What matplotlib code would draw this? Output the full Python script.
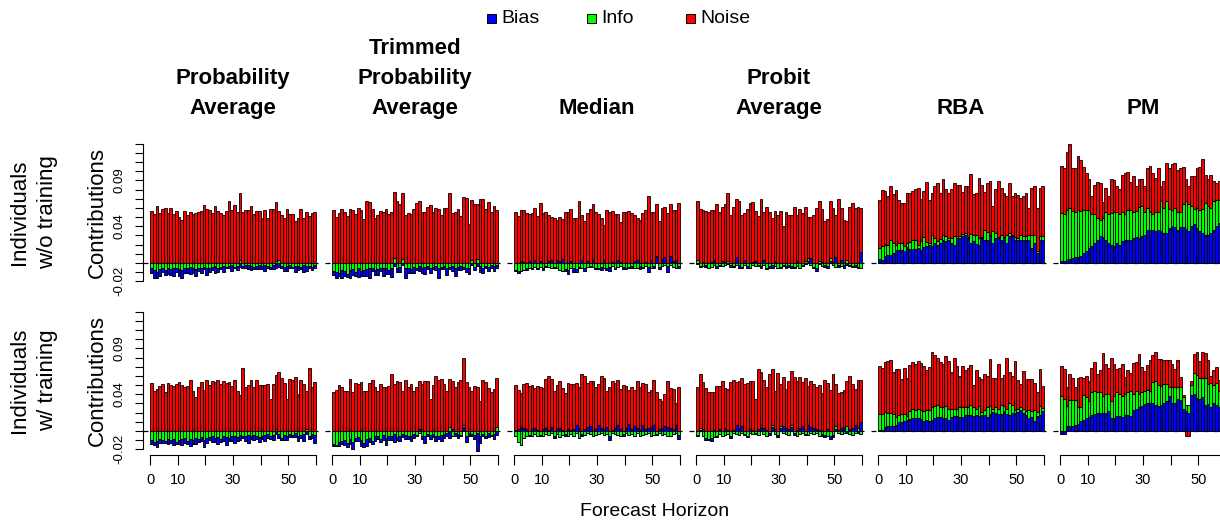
import matplotlib
matplotlib.use("Agg")
import matplotlib.pyplot as plt
from matplotlib.patches import Rectangle
import numpy as np

plt.rcParams['font.family'] = ['Liberation Sans', 'DejaVu Sans']

# contributions per forecast horizon (60 horizons), in units of 0.001
# row 1: individuals without training
pa_wo_bias = [-5, -8, -6, -7, -4, -5, -7, -6, -8, -5, -7, -8, -5, -6, -8, -5, -7, -4, -6, -3, -7, -5, -4, -8, -5, -3, -7, -2, -3, -7,
              -2, -5, -4, -2, -3, -5, -5, -3, -4, -5, -4, -7, -2, -3, -5, -5, -4, -3, -5, -6, -4, -2, -7, -5, -3, -8, -6, -3, -4, -3]
pa_wo_info = [-6, -8, -10, -7, -6, -8, -5, -7, -6, -5, -7, -8, -6, -5, -4, -6, -7, -5, -5, -4, -6, -5, -4, -3, -5, -4, -3, -4, -3, -2,
              -4, -3, 3, -3, -2, -2, -3, -4, -3, -2, -3, -2, -3, -4, -2, 2, 3, -3, -4, -3, -2, -4, -3, -3, -4, -2, -3, -3, -4, -2]
pa_wo_noise = [57, 53, 62, 54, 59, 60, 54, 60, 53, 57, 50, 47, 57, 52, 56, 53, 54, 56, 57, 63, 59, 58, 54, 62, 57, 54, 52, 57, 68, 58,
               63, 56, 73, 55, 58, 58, 62, 53, 57, 57, 49, 58, 49, 59, 59, 64, 54, 52, 49, 59, 53, 53, 46, 49, 59, 49, 56, 51, 54, 55]

tpa_wo_bias = [-4, -6, -3, -8, -5, -3, -8, -6, -4, -9, -5, -6, -7, -10, -4, -5, -6, -3, -8, -7, -4, -9, -3, -5, -6, -2, -10, -6, -4, -7,
               -3, -6, -5, -8, -4, -6, -3, -5, -10, -3, -4, -8, -3, -6, -9, -4, -5, -3, -5, -6, -2, -4, -3, -7, -6, -3, -5, -4, -6, -4]
tpa_wo_info = [-9, -10, -11, -8, -9, -12, -8, -7, -10, -6, -9, -8, -7, -6, -5, -8, -7, -6, -6, -5, -8, -6, 5, -5, -4, 4, -6, -5, -7, -4,
               -5, -3, -6, -4, -3, -5, -4, -3, -6, -4, -3, -5, -4, -3, -5, -4, -3, -4, -5, -6, 3, -4, 4, -3, -5, -3, -4, -2, -3, -2]
tpa_wo_noise = [58, 50, 54, 59, 56, 51, 59, 58, 53, 60, 58, 48, 67, 66, 59, 49, 52, 57, 56, 59, 53, 56, 72, 67, 64, 72, 52, 54, 53, 59,
                65, 67, 56, 56, 61, 63, 56, 60, 59, 52, 60, 60, 76, 54, 55, 59, 51, 72, 71, 43, 66, 64, 60, 70, 70, 59, 66, 56, 62, 58]

med_wo_bias = [-1, -2, 2, 1, -2, 2, -1, 3, -2, 2, -3, -1, 2, 3, -2, 3, 2, 4, -2, -4, 2, -5, -3, -1, 3, -4, 2, -1, 3, -2,
               -1, -4, 3, -2, -5, 1, -2, 3, 1, -3, -2, -1, -3, 2, 3, -4, -2, 1, -6, 3, -2, 6, -3, 4, 6, -7, 8, 2, 3, -3]
med_wo_info = [-8, -9, -9, -8, -6, -5, -6, -4, -5, -4, -5, -3, -4, -5, -4, -6, -8, -9, -7, -8, -6, -5, -7, -4, -6, -5, -4, -3, -4, -5,
               -6, -4, -5, -6, -4, -3, -5, -4, -3, -4, -5, -4, -3, -5, -6, -3, -4, -3, -4, -5, -3, 2, -4, -3, -2, -3, -2, -4, -5, -3]
med_wo_noise = [56, 51, 56, 57, 54, 51, 54, 57, 51, 63, 54, 56, 50, 47, 49, 44, 48, 44, 56, 55, 57, 49, 49, 67, 49, 46, 52, 59, 61, 56,
                53, 49, 38, 58, 56, 56, 53, 50, 44, 55, 55, 57, 54, 50, 46, 47, 54, 57, 73, 52, 56, 56, 46, 56, 55, 54, 56, 56, 55, 65]

pro_wo_bias = [-1, -1, 1, -2, -1, 1, 3, -3, -1, 2, 1, -1, -2, -1, 6, -3, -1, 3, -2, -1, 1, 2, -1, -3, 3, -2, -2, -4, 2, -1,
               -2, -1, -3, -2, -2, -1, 2, -1, -1, -1, 2, 5, -2, -4, -1, 1, -2, -3, 2, 1, 6, -2, 3, -3, -2, -1, -1, -2, -1, 12]
pro_wo_info = [3, -3, -3, -2, -5, -4, -2, -3, -2, -3, -2, 2, -2, -3, -2, -2, -4, -2, -3, -5, -2, -3, -2, -3, -2, -5, -3, -2, -3, -5,
               -4, -2, -3, -2, -3, -4, -3, -5, -2, 2, 3, -2, -4, -5, 2, -3, -2, -3, 3, -2, -4, -2, -3, -2, 3, -2, -3, -2, -4, -5]
pro_wo_noise = [64, 59, 57, 57, 56, 57, 55, 64, 56, 59, 63, 74, 52, 61, 64, 67, 52, 51, 59, 65, 65, 55, 51, 70, 53, 61, 56, 49, 55, 52,
                57, 40, 55, 52, 52, 61, 50, 59, 54, 59, 45, 45, 52, 60, 65, 58, 46, 48, 63, 59, 46, 70, 57, 47, 43, 61, 65, 60, 61, 48]

rba_wo_bias = [4, 3, 8, 9, 9, 11, 14, 14, 14, 13, 17, 15, 15, 15, 16, 14, 17, 18, 20, 19, 22, 20, 22, 25, 24, 25, 22, 20, 27, 27,
               29, 31, 27, 22, 24, 21, 20, 27, 25, 25, 29, 22, 27, 27, 25, 27, 22, 29, 29, 25, 25, 25, 25, 25, 25, 16, 22, 11, 25, 25]
rba_wo_info = [12, 16, 12, 11, 16, 11, 6, 8, 8, 5, 5, 8, 10, 10, 4, 10, 11, 5, 2, 11, 5, 4, 4, 5, 5, 2, 5, 9, 2, 2,
               3, 2, 1, 10, 7, 10, 7, 1, 11, 9, 2, 13, 6, 1, 5, 1, 9, 4, 2, 3, 2, 5, 4, 4, 5, 15, 8, 2, 4, 4]
rba_wo_noise = [53, 60, 58, 53, 59, 53, 59, 47, 43, 47, 54, 53, 53, 56, 62, 46, 50, 65, 47, 46, 57, 63, 50, 61, 52, 49, 54, 58, 56, 56,
                45, 51, 56, 65, 44, 45, 66, 57, 41, 53, 58, 27, 48, 61, 52, 48, 42, 54, 42, 48, 47, 41, 44, 47, 30, 51, 54, 47, 53, 55]

pm_wo_bias = [2, 2, 3, 4, 5, 7, 7, 8, 11, 13, 16, 18, 22, 25, 29, 28, 25, 22, 20, 18, 22, 20, 24, 25, 25, 25, 27, 28, 27, 29,
              30, 36, 36, 36, 35, 36, 35, 33, 33, 38, 40, 39, 36, 39, 39, 37, 35, 40, 43, 38, 35, 33, 31, 30, 33, 36, 40, 44, 45, 47]
pm_wo_info = [52, 51, 55, 56, 52, 49, 51, 49, 47, 45, 42, 35, 31, 24, 18, 21, 30, 31, 34, 37, 34, 33, 31, 28, 33, 33, 29, 29, 34, 33,
              26, 24, 19, 17, 20, 19, 32, 27, 34, 21, 18, 21, 19, 17, 25, 30, 29, 22, 16, 22, 23, 26, 34, 32, 27, 31, 29, 25, 25, 24]
pm_wo_noise = [52, 50, 63, 70, 46, 48, 59, 55, 47, 40, 33, 20, 32, 39, 40, 17, 27, 20, 37, 35, 28, 28, 41, 45, 41, 30, 39, 27, 31, 30,
               28, 43, 51, 45, 38, 48, 17, 29, 42, 44, 50, 49, 46, 47, 41, 25, 20, 33, 36, 44, 47, 54, 31, 30, 36, 22, 18, 20, 21, 16]

# row 2: individuals with training
pa_w_bias = [-4, -3, -6, -4, -3, -2, -5, -3, -6, -2, -4, -6, -5, -3, -7, -4, -6, -3, -4, -8, -5, -3, -6, -4, -7, -3, -5, -8, -3, -5,
             -8, -4, -6, -3, -5, -9, -4, -6, -3, -5, -4, -7, -5, -4, -6, -3, -5, -2, -6, -5, -4, -3, -5, -6, -4, -8, -3, -4, -5, -9]
pa_w_info = [-10, -12, -11, -9, -10, -11, -9, -10, -9, -12, -10, -9, -8, -11, -9, -10, -8, -9, -7, -10, -8, -7, -6, -8, -7, -9, -6, -7, -8, -6,
             -5, -7, -4, -5, -6, -4, -5, -4, -6, -7, -5, -4, -3, -5, -4, 2, -3, -8, -4, -5, -3, -4, -2, -5, -4, -3, 2, -5, -3, -4]
pa_w_noise = [52, 44, 46, 49, 51, 42, 52, 50, 49, 51, 53, 50, 48, 49, 56, 44, 37, 48, 53, 45, 55, 50, 54, 53, 55, 51, 54, 52, 53, 49,
              56, 44, 39, 69, 48, 50, 55, 48, 56, 50, 50, 50, 51, 35, 51, 59, 64, 58, 52, 35, 57, 55, 59, 40, 55, 51, 42, 69, 48, 53]

tpa_w_bias = [-2, -1, -4, -3, -5, -4, -5, -8, -3, -4, -6, -5, -7, -4, -3, -5, -4, -3, -6, -7, -4, -5, -9, -3, -6, -4, -5, -3, -6, -5,
              -2, 2, -4, -7, -3, -5, -4, -6, -3, -7, -5, -4, -8, 2, -3, -5, -2, 4, -6, -3, -2, -5, -20, -8, -3, -3, -5, -2, -6, -4]
tpa_w_info = [-14, -15, -12, -11, -10, -13, -9, -12, -8, -7, -10, -13, -9, -8, -11, -6, -5, -9, -4, -8, -6, -5, -3, -7, -5, -3, -4, -6, -5, -3,
              -4, -2, -5, -6, -3, -4, -3, -5, -6, -4, -3, -2, 4, -5, -2, -3, -4, 3, -6, -2, -3, -4, -2, -5, -3, -5, -2, -4, -3, 4]
tpa_w_noise = [42, 45, 50, 48, 44, 44, 57, 42, 52, 51, 53, 44, 44, 52, 55, 48, 44, 51, 48, 48, 49, 62, 51, 54, 53, 44, 56, 48, 51, 44,
               48, 52, 51, 54, 54, 35, 50, 60, 56, 57, 51, 44, 53, 53, 48, 53, 55, 72, 53, 48, 44, 49, 48, 33, 56, 53, 47, 42, 46, 54]

med_w_bias = [1, 2, 4, 3, 2, -2, 2, 3, 1, -1, 2, 3, 1, 4, -3, 2, 3, 1, -2, 3, 1, 2, 6, 3, -3, 2, 4, 5, -1, 2,
              7, 3, 2, 4, -4, 1, 3, 6, 2, -2, 3, 8, 2, 5, 3, 1, 7, 2, 3, 4, 6, -1, 2, 3, 5, 4, 3, 2, 6, -5]
med_w_info = [-5, -12, -15, -8, -6, -4, -5, -3, -6, -4, -5, -3, -4, -2, -5, -3, -7, -4, -3, -5, -3, -6, -2, -8, -3, -4, -2, -3, -5, -4,
              -3, -2, -4, -3, -6, -2, -3, -4, -5, -3, -2, -4, -3, -5, -2, -6, -4, -3, -2, -5, -4, -3, -2, -4, -3, -5, -6, -3, -2, -4]
med_w_noise = [49, 43, 37, 48, 50, 49, 48, 44, 48, 48, 45, 54, 59, 53, 44, 48, 52, 46, 41, 49, 50, 49, 46, 45, 62, 58, 48, 49, 54, 46,
               44, 57, 56, 40, 48, 54, 49, 50, 44, 50, 46, 37, 46, 40, 52, 47, 45, 49, 39, 41, 49, 42, 33, 30, 35, 50, 44, 44, 25, 48]

pro_w_bias = [-1, 1, 2, -2, -1, -3, 1, -2, 2, -1, 3, 1, -2, 1, 6, 3, 5, -1, -2, 2, 1, -1, 2, 4, 3, 1, -2, 4, 2, -3,
              3, 5, 3, 2, 4, -2, 1, 3, 5, -1, 7, 4, 3, 2, 1, -2, -3, 2, -4, -3, 2, 1, 3, 4, -2, 2, 3, 6, -2, 10]
pro_w_info = [-4, 2, -6, -8, -9, -8, -7, -5, -3, -5, -4, -3, -6, -2, -3, -4, -2, -3, -5, -2, -3, -2, -4, 2, -3, -5, -2, 2, -3, -4,
              2, -2, -3, -4, 2, -2, -5, -3, -2, -3, -4, -2, -3, -2, -5, -3, -4, -6, -5, -4, 3, -2, -3, -2, 5, -3, -4, -2, 3, -3]
pro_w_noise = [48, 59, 51, 47, 43, 42, 42, 49, 47, 54, 44, 45, 53, 55, 47, 52, 53, 51, 52, 53, 53, 35, 65, 58, 53, 47, 62, 61, 42, 63,
               46, 54, 43, 53, 59, 59, 54, 56, 48, 58, 42, 50, 48, 46, 49, 41, 55, 50, 45, 62, 46, 40, 40, 41, 49, 58, 48, 40, 53, 45]

rba_w_bias = [1, 1, 4, 5, 5, 5, 6, 10, 10, 11, 12, 13, 14, 14, 14, 13, 11, 12, 11, 12, 14, 15, 15, 14, 14, 12, 15, 16, 16, 15,
              15, 17, 17, 17, 16, 17, 16, 17, 17, 15, 19, 21, 20, 19, 19, 22, 19, 17, 20, 20, 21, 23, 20, 17, 14, 15, 11, 16, 17, 22]
rba_w_info = [17, 17, 17, 15, 15, 13, 9, 7, 8, 8, 4, 9, 10, 9, 10, 10, 11, 11, 12, 14, 13, 13, 11, 12, 13, 12, 9, 8, 8, 11,
              11, 9, 9, 11, 10, 7, 11, 4, 6, 11, 8, 3, 6, 5, 9, 5, 5, 13, 8, 3, 3, 3, 4, 5, 9, 7, 12, 5, 10, 3]
rba_w_noise = [53, 51, 54, 56, 57, 46, 53, 50, 39, 50, 42, 50, 51, 50, 52, 51, 49, 43, 47, 60, 56, 51, 49, 47, 55, 52, 40, 56, 47, 34,
               45, 40, 43, 44, 24, 42, 32, 36, 39, 34, 51, 34, 32, 49, 30, 34, 56, 34, 32, 53, 31, 25, 41, 35, 34, 35, 29, 21, 41, 24]

pm_w_bias = [-3, -3, 5, 5, 5, 6, 8, 11, 12, 14, 15, 17, 18, 20, 20, 20, 20, 22, 14, 14, 16, 16, 15, 17, 17, 16, 23, 24, 26, 27,
             29, 30, 31, 31, 28, 27, 28, 30, 33, 38, 31, 31, 35, 34, 24, 22, 20, 39, 40, 36, 35, 37, 28, 29, 26, 30, 28, 26, 30, 31]
pm_w_info = [38, 35, 22, 29, 29, 28, 18, 15, 27, 23, 18, 26, 26, 22, 22, 18, 20, 18, 19, 24, 26, 24, 23, 23, 26, 28, 17, 20, 14, 15,
             15, 15, 13, 22, 26, 23, 21, 21, 18, 10, 17, 17, 13, 14, 13, 6, 8, 11, 23, 25, 23, 21, 30, 22, 26, 20, 24, 18, 22, 21]
pm_w_noise = [33, 32, 21, 28, 24, 14, 32, 33, 19, 23, 22, 26, 31, 20, 24, 47, 33, 29, 46, 35, 25, 29, 35, 19, 23, 19, 34, 31, 44, 28,
              21, 27, 33, 30, 32, 28, 29, 26, 26, 29, 25, 19, 29, 11, 2, -6, -5, 4, 21, 25, 18, 28, 27, 26, 8, 16, 18, 11, 12, 13]

methods = ["Probability\nAverage", "Trimmed\nProbability\nAverage", "Median",
           "Probit\nAverage", "RBA", "PM"]
groups = ["Individuals\nw/o training", "Individuals\nw/ training"]
components = ["Bias", "Info", "Noise"]
colors = ["#0000FF", "#00FF00", "#FF0000"]

data = [
    [(pa_wo_bias, pa_wo_info, pa_wo_noise), (tpa_wo_bias, tpa_wo_info, tpa_wo_noise),
     (med_wo_bias, med_wo_info, med_wo_noise), (pro_wo_bias, pro_wo_info, pro_wo_noise),
     (rba_wo_bias, rba_wo_info, rba_wo_noise), (pm_wo_bias, pm_wo_info, pm_wo_noise)],
    [(pa_w_bias, pa_w_info, pa_w_noise), (tpa_w_bias, tpa_w_info, tpa_w_noise),
     (med_w_bias, med_w_info, med_w_noise), (pro_w_bias, pro_w_info, pro_w_noise),
     (rba_w_bias, rba_w_info, rba_w_noise), (pm_w_bias, pm_w_info, pm_w_noise)],
]

W, H = 1220, 527
fig = plt.figure(figsize=(W / 100, H / 100), dpi=100)


def add_px_axes(left, top, width, height):
    return fig.add_axes([left / W, 1 - (top + height) / H, width / W, height / H])


def draw_panel(ax, bias, info, noise):
    b = np.array(bias) / 1000
    i = np.array(info) / 1000
    n = np.array(noise) / 1000
    x = np.arange(len(b)) + 0.5
    ax.axhline(0, color='black', lw=0.9, dashes=(4, 4), zorder=1)
    # positives stack upward bias -> info -> noise, negatives stack downward info -> bias -> noise
    pos_base = np.zeros(len(b))
    neg_base = np.zeros(len(b))
    kw = dict(width=1.0, edgecolor='black', linewidth=0.6, zorder=2)
    for vals, col in [(b, colors[0]), (i, colors[1]), (n, colors[2])]:
        p = np.where(vals > 0, vals, 0)
        ax.bar(x, p, bottom=pos_base, color=col, **kw)
        pos_base += p
    for vals, col in [(i, colors[1]), (b, colors[0]), (n, colors[2])]:
        m = np.where(vals < 0, vals, 0)
        ax.bar(x, m, bottom=neg_base, color=col, **kw)
        neg_base += m


row_tops = [138.2, 306.2]
ax_h = 148.6
ax_w = 179.3
for r in range(2):
    for c in range(6):
        ax = add_px_axes(143.4 + 182 * c, row_tops[r], ax_w, ax_h)
        bias, info, noise = data[r][c]
        draw_panel(ax, bias, info, noise)
        ax.set_xlim(-2.4, 62.4)
        ax.set_ylim(-0.026, 0.136)
        ax.patch.set_visible(False)
        for s in ax.spines.values():
            s.set_visible(False)
        ax.tick_params(direction='out', length=6, width=0.8, color='black')
        if c == 0:
            ax.spines['left'].set_visible(True)
            ax.spines['left'].set_bounds(-0.02, 0.13)
            ax.spines['left'].set_linewidth(0.8)
            yt = np.arange(-2, 14) / 100
            ylab = ['-0.02' if k == 0 else '0.04' if k == 6 else '0.09' if k == 11 else '' for k in range(16)]
            ax.set_yticks(yt, labels=ylab, rotation=90, va='center', fontsize=9.5)
            ax.tick_params(axis='y', pad=7)
            ax.set_ylabel("Contributions", fontsize=16, labelpad=4)
        else:
            ax.set_yticks([])
        if r == 1:
            ax.spines['bottom'].set_visible(True)
            ax.spines['bottom'].set_bounds(0, 60)
            ax.spines['bottom'].set_linewidth(0.8)
            ax.set_xticks(np.arange(0, 61, 10), labels=['0', '10', '', '30', '', '50', ''], fontsize=10.5)
            ax.tick_params(axis='x', length=7, pad=6)
        else:
            ax.set_xticks([])

# column titles
for c, name in enumerate(methods):
    lines = name.split("\n")
    for k, line in enumerate(reversed(lines)):
        fig.text((233 + 182 * c) / W, 1 - (114 - 30 * k) / H, line, ha='center', va='baseline',
                 fontsize=16, fontweight='bold')

# row labels
for r, name in enumerate(groups):
    yc = 212.5 if r == 0 else 380.5
    fig.text(30 / W, 1 - yc / H, name.split("\n")[0], rotation=90, ha='right', va='center', fontsize=16)
    fig.text(58 / W, 1 - yc / H, name.split("\n")[1], rotation=90, ha='right', va='center', fontsize=16)

# legend
leg_sq = [487, 587, 686]
for k, lab in enumerate(components):
    fig.add_artist(Rectangle((leg_sq[k] / W, 1 - 23 / H), 9 / W, 9 / H, transform=fig.transFigure,
                             facecolor=colors[k], edgecolor='black', lw=0.7))
    fig.text((leg_sq[k] + 14) / W, 1 - 18.5 / H, lab, ha='left', va='center', fontsize=14)

fig.text(655 / W, 1 - 512 / H, "Forecast Horizon", ha='center', va='center', fontsize=14)

fig.savefig("out.png", dpi=100)
